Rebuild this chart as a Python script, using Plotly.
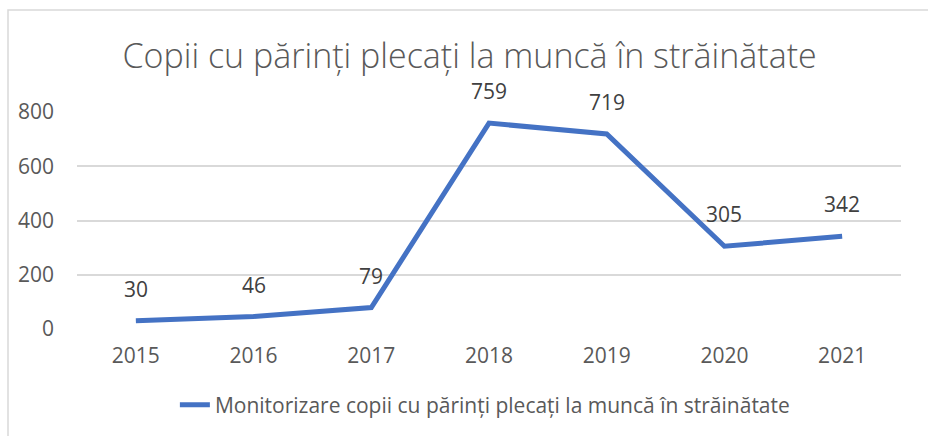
import plotly.graph_objects as go

years = ["2015", "2016", "2017", "2018", "2019", "2020", "2021"]
values = [30, 46, 79, 759, 719, 305, 342]
y_ticks = [0, 200, 400, 600, 800]
title_text = "Copii cu părinți plecați la muncă în străinătate"
series_name = "Monitorizare copii cu părinți plecați la muncă în străinătate"

BODY = "Open Sans, sans-serif"

fig = go.Figure()
fig.add_trace(go.Scatter(
    x=years, y=values, mode="lines", name=series_name,
    line=dict(color="#4472C4", width=5, shape="linear"),
    cliponaxis=False,
))
# data labels (category index positions on the category axis)
for i, v in enumerate(values):
    fig.add_annotation(x=i, y=v, xref="x", yref="y", text=str(v), showarrow=False, yshift=32,
                       font=dict(family=BODY, size=21, color="#404040"))

W, H = 928, 436
L, R, T, B = 77, 27, 112, 107
pw = W - L - R
ph = H - T - B

# chart border (light gray), in paper coordinates
fig.add_shape(type="rect", xref="paper", yref="paper",
              x0=(8 - L) / pw, x1=(940 - L) / pw,
              y0=(H - B - 450) / ph, y1=(H - B - 10) / ph,
              line=dict(color="#d9d9d9", width=1.5), fillcolor="rgba(0,0,0,0)", layer="below")

fig.update_layout(
    width=W, height=H,
    margin=dict(l=L, r=R, t=T, b=B, autoexpand=False),
    paper_bgcolor="white", plot_bgcolor="white",
    title=dict(text=title_text, x=0.506, xanchor="center", y=1 - 56 / H, yanchor="middle",
               yref="container",
               font=dict(family=BODY, size=34, color="#595959", weight=300)),
    xaxis=dict(type="category", range=[-0.5, 6.5], showgrid=False, zeroline=False,
               showline=False, ticks="", tickfont=dict(family=BODY, size=21, color="#595959"),
               ticklabelstandoff=12),
    yaxis=dict(range=[0, 800], tickvals=y_ticks, showgrid=True, gridcolor="#d9d9d9", gridwidth=1.5,
               zeroline=False, showline=False, ticks="",
               tickfont=dict(family=BODY, size=21, color="#595959"), ticklabelstandoff=22),
    showlegend=True,
    legend=dict(orientation="h", x=0.495, xanchor="center", y=(H - B - 405) / ph, yanchor="middle",
                font=dict(family=BODY, size=21, color="#595959"), bgcolor="rgba(0,0,0,0)"),
)

fig.write_html("out.html", config={"displayModeBar": False},
               post_script="document.body.style.margin='0';")
